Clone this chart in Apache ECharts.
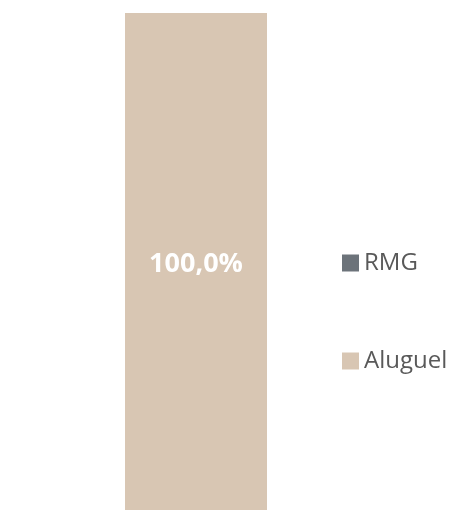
<!DOCTYPE html>
<html>
<head>
<meta charset="utf-8">
<script src="https://cdn.jsdelivr.net/npm/echarts@6/dist/echarts.min.js"></script>
<style>
  html, body { margin: 0; padding: 0; background: #fff; }
  #chart { width: 457px; height: 510px; }
</style>
</head>
<body>
<div id="chart"></div>
<script>
const categories = [''];
const legendOrder = ['RMG', 'Aluguel'];
const aluguelValues = [1.0];
const rmgValues = [0];

const fmtPct = v => (v * 100).toFixed(1).replace('.', ',') + '%';

const chart = echarts.init(document.getElementById('chart'));

chart.setOption({
  animation: false,
  grid: { left: 125, top: 13, bottom: 0, width: 142 },
  xAxis: {
    type: 'category',
    data: categories,
    show: false
  },
  yAxis: {
    type: 'value',
    min: 0,
    max: 1,
    show: false
  },
  legend: {
    data: legendOrder,
    orient: 'vertical',
    left: 337,
    top: 245,
    icon: 'rect',
    itemWidth: 17,
    itemHeight: 17,
    itemGap: 72,
    textStyle: {
      fontFamily: 'Open Sans',
      fontSize: 24,
      color: '#595959',
      lineHeight: 26
    }
  },
  series: [
    {
      name: 'Aluguel',
      type: 'bar',
      stack: 'total',
      barWidth: '100%',
      data: aluguelValues,
      itemStyle: { color: '#D8C6B3' },
      label: {
        show: true,
        position: 'inside',
        formatter: p => fmtPct(p.value),
        color: '#fff',
        fontWeight: 'bold',
        fontFamily: 'Open Sans',
        fontSize: 27,
        offset: [0, 3]
      }
    },
    {
      name: 'RMG',
      type: 'bar',
      stack: 'total',
      barWidth: '100%',
      data: rmgValues,
      itemStyle: { color: '#6C737A' }
    }
  ]
});
</script>
</body>
</html>
